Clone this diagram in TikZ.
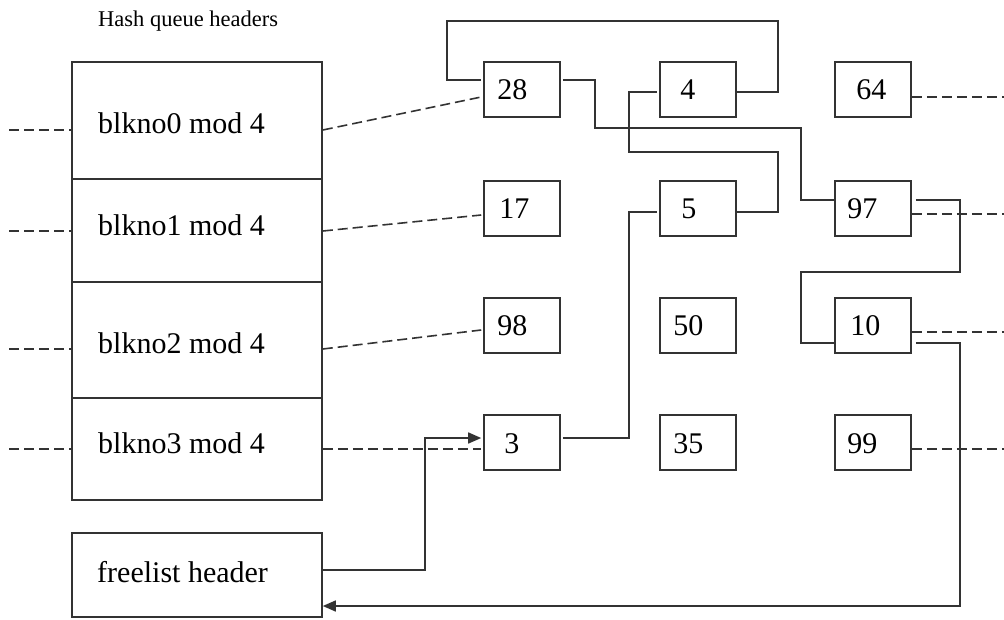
\documentclass[tikz,border=0pt]{standalone}
\usepackage{fontspec}
\setmainfont{Liberation Serif}
\usetikzlibrary{arrows.meta,calc}

\begin{document}
\begin{tikzpicture}[x=1pt,y=-1pt,
  ln/.style={line width=1.6pt,draw=black!80},
  box/.style={ln,minimum width=76pt,minimum height=55pt,inner sep=0pt},
  row/.style={ln,minimum width=250pt,inner sep=0pt},
  num/.style={anchor=base west,inner sep=0pt,font=\fontsize{30}{36}\selectfont},
  rowtext/.style={anchor=base west,inner sep=0pt,font=\fontsize{30}{36}\selectfont},
  link/.style={ln,line cap=butt},
  ptr/.style={link,-{Triangle[length=13pt,width=11pt]}},
  chain/.style={ln,dash pattern=on 10pt off 5pt}]

\useasboundingbox (0,0) rectangle (1004,619);

% title
\node[anchor=base west,inner sep=0pt,font=\fontsize{22.5}{27}\selectfont] (title) at (98,26) {Hash queue headers};

% hash queue header table
\node[row,minimum height=117pt] (r0) at (197,120.5) {};
\node[row,minimum height=103pt] (r1) at (197,230.5) {};
\node[row,minimum height=116pt] (r2) at (197,340) {};
\node[row,minimum height=102pt] (r3) at (197,449) {};
\node[rowtext] (t0) at (98,133) {blkno0 mod 4};
\node[rowtext] (t1) at (98,235) {blkno1 mod 4};
\node[rowtext] (t2) at (98,353) {blkno2 mod 4};
\node[rowtext] (t3) at (98,453) {blkno3 mod 4};

% free list header
\node[row,minimum height=84pt] (free) at (197,575) {};
\node[rowtext] (tf) at (97,582) {freelist header};

% buffers
\node[box] (b28) at (522,89.5) {};
\node[box] (b4)  at (698,89.5) {};
\node[box] (b64) at (873,89.5) {};
\node[box] (b17) at (522,208.5) {};
\node[box] (b5)  at (698,208.5) {};
\node[box] (b97) at (873,208.5) {};
\node[box] (b98) at (522,325.5) {};
\node[box] (b50) at (698,325.5) {};
\node[box] (b10) at (873,325.5) {};
\node[box] (b3)  at (522,442.5) {};
\node[box] (b35) at (698,442.5) {};
\node[box] (b99) at (873,442.5) {};

\node[num] at ($(b28.west)+(14,10)$) {28};
\node[num] at ($(b4.west)+(21,10)$)  {4};
\node[num] at ($(b64.west)+(22,10)$) {64};
\node[num] at ($(b17.west)+(16,10)$) {17};
\node[num] at ($(b5.west)+(22,10)$)  {5};
\node[num] at ($(b97.west)+(13,10)$) {97};
\node[num] at ($(b98.west)+(14,10)$) {98};
\node[num] at ($(b50.west)+(14,10)$) {50};
\node[num] at ($(b10.west)+(16,10)$) {10};
\node[num] at ($(b3.west)+(21,10.5)$)  {3};
\node[num] at ($(b35.west)+(14,10.5)$) {35};
\node[num] at ($(b99.west)+(13,10.5)$) {99};

% free ends of the hash chains
\coordinate (l0) at (9,130);
\coordinate (l1) at (9,231);
\coordinate (l2) at (9,349);
\coordinate (l3) at (9,449);
\coordinate (e64) at (1004,97);
\coordinate (e97) at (1004,214);
\coordinate (e10) at (1004,332);
\coordinate (e99) at (1004,449);

% hash chains (dashed)
\draw[chain] (l0) -- ($(r0.west)+(0,9.5)$);
\draw[chain] (l1) -- ($(r1.west)+(0,0.5)$);
\draw[chain] (l2) -- ($(r2.west)+(0,9)$);
\draw[chain] (l3) -- (r3.west);
\draw[chain] ($(r0.east)+(0,9.5)$) -- ($(b28.west)+(-2,7.5)$);
\draw[chain] ($(r1.east)+(0,0.5)$) -- ($(b17.west)+(-2,6.5)$);
\draw[chain] ($(r2.east)+(0,9)$) -- ($(b98.west)+(-2,4.5)$);
\draw[chain] (r3.east) -- ($(b3.west)+(-2,6.5)$);
\draw[chain] ($(b64.east)+(0,7.5)$) -- (e64);
\draw[chain] ($(b97.east)+(0,5.5)$) -- (e97);
\draw[chain] ($(b10.east)+(0,6.5)$) -- (e10);
\draw[chain] ($(b99.east)+(0,6.5)$) -- (e99);

% free list (solid)
\draw[ptr] ($(free.east)+(0,-5)$) -| (425,438) -- ($(b3.west)+(-2,-4.5)$);
\draw[link] ($(b3.east)+(2,-4.5)$) -| (629,212) -- ($(b5.west)+(-2,3.5)$);
\draw[link] ($(b5.east)+(-2,3.5)$) -| (778,152) -| (629,92) -- ($(b4.west)+(-2,2.5)$);
\draw[link] ($(b4.east)+(-2,2.5)$) -| (778,21) -| (447,80) -- ($(b28.west)+(-2,-9.5)$);
\draw[link] ($(b28.east)+(2,-9.5)$) -| (595,128) -| (801,200) -- ($(b97.west)+(0,-8.5)$);
\draw[link] ($(b97.east)+(4,-8.5)$) -| (960,272) -| (801,343) -- ($(b10.west)+(0,17.5)$);
\draw[ptr] ($(b10.east)+(4,17.5)$) -| (960,606) -- ($(free.east)+(0,31)$);

\end{tikzpicture}
\end{document}
